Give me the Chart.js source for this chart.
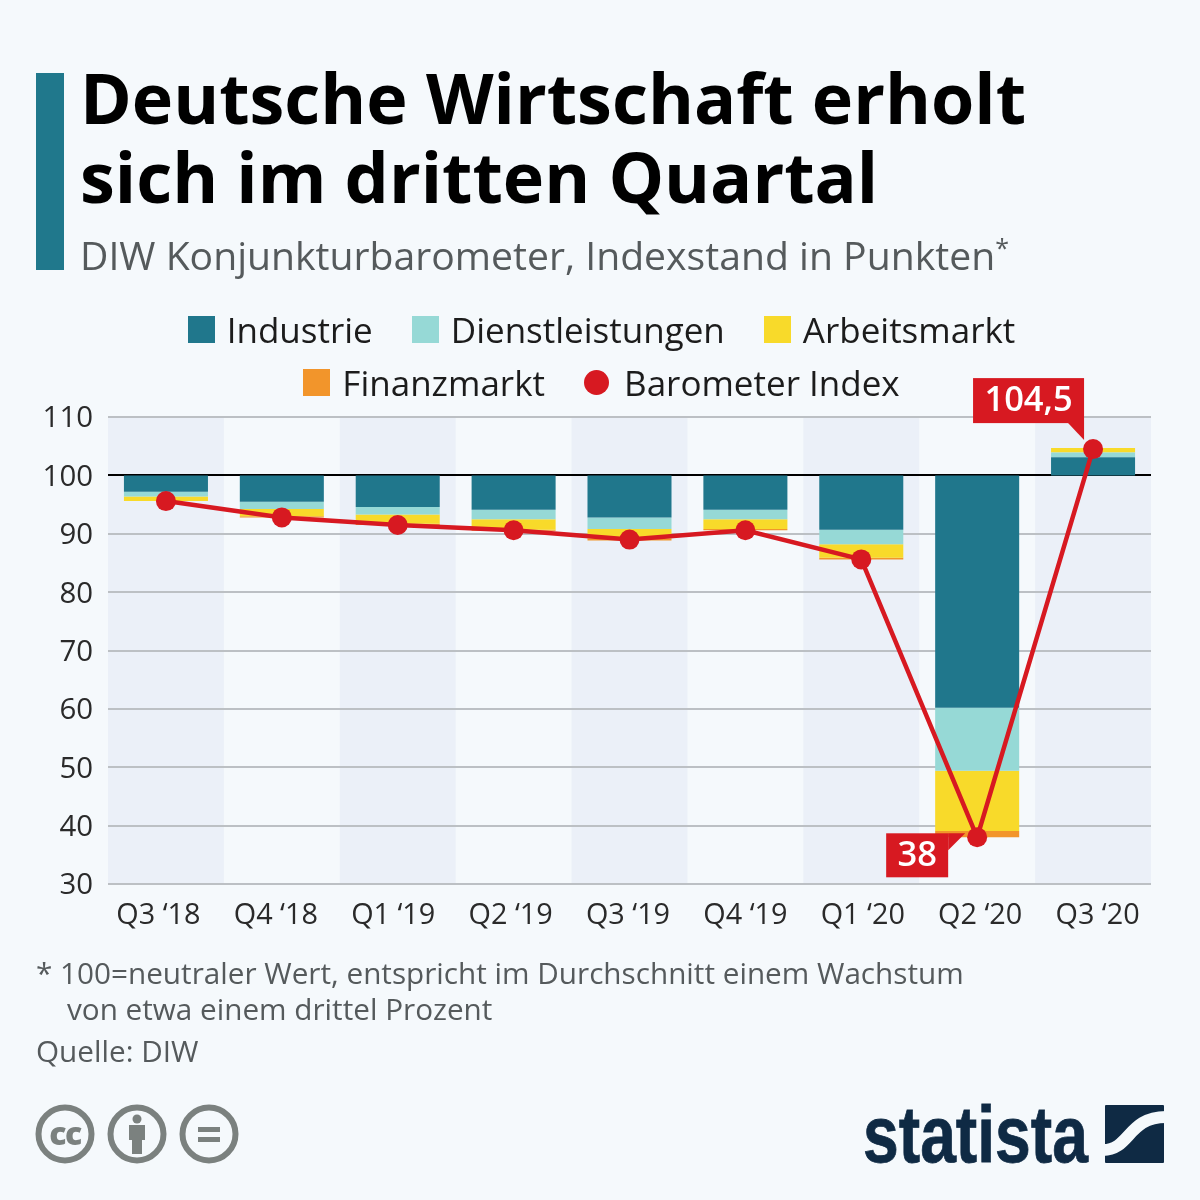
<!DOCTYPE html>
<html lang="de">
<head>
<meta charset="utf-8">
<title>Deutsche Wirtschaft erholt sich im dritten Quartal</title>
<script src="https://cdn.jsdelivr.net/npm/chart.js@4"></script>
<style>
html, body { margin: 0; padding: 0; background: #f5f9fc; }
body { width: 1200px; height: 1200px; position: relative; overflow: hidden; font-family: "Open Sans", sans-serif; }
canvas { position: absolute; left: 0; top: 0; }
.abs { position: absolute; white-space: nowrap; }
#bar { left: 36px; top: 73px; width: 28px; height: 197px; background: #20788c; }
#title { left: 80px; top: 58px; font-size: 70px; line-height: 79px; font-weight: 700; color: #000; }
#subtitle { left: 80px; top: 233px; font-size: 39.15px; line-height: 44px; color: #555a5c; }
#subtitle sup { font-size: 25px; line-height: 0; vertical-align: 13px; }
.foot { font-size: 29.7px; line-height: 36px; color: #555a5c; }
#legend { left: 100px; top: 303px; width: 1003px; display: flex; flex-wrap: wrap; justify-content: center; white-space: normal; padding: 0 40px; box-sizing: border-box; font-size: 35px; line-height: 53px; color: #1c1c1c; }
.item { display: flex; align-items: center; margin: 0 19.5px; }
.swatch { width: 27px; height: 27px; margin-right: 12px; }
.swatch.round { width: 25px; height: 25px; border-radius: 50%; margin-right: 15px; }
</style>
</head>
<body>
<canvas id="chart" width="1200" height="1200"></canvas>
<div class="abs" id="bar"></div>
<div class="abs" id="title">Deutsche Wirtschaft erholt<br>sich im dritten Quartal</div>
<div class="abs" id="subtitle">DIW Konjunkturbarometer, Indexstand in Punkten<sup>*</sup></div>
<div class="abs" id="legend"></div>
<div class="abs foot" style="left:36px;top:955px">* 100=neutraler Wert, entspricht im Durchschnitt einem Wachstum</div>
<div class="abs foot" style="left:67px;top:991px">von etwa einem drittel Prozent</div>
<div class="abs foot" style="left:36px;top:1033px">Quelle: DIW</div>

<svg class="abs" style="left:30px;top:1100px" width="220" height="70" viewBox="30 1100 220 70">
  <g fill="none" stroke="#7b817f" stroke-width="6">
    <circle cx="65" cy="1134" r="26.5"/><circle cx="137" cy="1134" r="26.5"/><circle cx="209" cy="1134" r="26.5"/>
  </g>
  <text x="65" y="1145" text-anchor="middle" font-family="Open Sans" font-weight="800" font-size="32" letter-spacing="-1.5" fill="#7b817f">cc</text>
  <g fill="#7b817f">
    <circle cx="137" cy="1119" r="4.5"/>
    <path d="M129 1125h16v15h-3v14h-10v-14h-3z"/>
    <rect x="198" y="1127" width="22" height="5"/><rect x="198" y="1137" width="22" height="5"/>
  </g>
</svg>
<svg class="abs" style="left:860px;top:1095px" width="310" height="75" viewBox="860 1095 310 75">
  <text x="863" y="1162" font-family="Liberation Sans Narrow, Liberation Sans" font-weight="700" font-size="80" textLength="225" lengthAdjust="spacingAndGlyphs" fill="#0f2a44" stroke="#0f2a44" stroke-width="0.8">statista</text>
  <rect x="1105" y="1105" width="59" height="58" rx="1" fill="#0f2a44"/>
  <path d="M1103 1150C1130 1150 1128 1117 1166 1117" fill="none" stroke="#f5f9fc" stroke-width="12"/>
</svg>

<script>
const categories = ["Q3 ‘18", "Q4 ‘18", "Q1 ‘19", "Q2 ‘19", "Q3 ‘19", "Q4 ‘19", "Q1 ‘20", "Q2 ‘20", "Q3 ‘20"];
// contributions in points, measured from the neutral value 100
const industrie       = [-2.8, -4.5, -5.4, -5.9, -7.2, -5.9, -9.3, -39.8, 3.1];
const dienstleistungen = [-0.8, -1.25, -1.3, -1.6, -2.0, -1.6, -2.5, -10.8, 0.8];
const arbeitsmarkt    = [-0.8, -1.25, -1.6, -1.8, -1.6, -1.7, -2.3, -10.3, 0.8];
const finanzmarkt     = [0, -0.2, -0.2, -0.2, -0.35, -0.2, -0.3, -1.1, 0];
const barometer       = [95.6, 92.8, 91.5, 90.6, 89, 90.6, 85.6, 38, 104.5];
const yTicks = [30, 40, 50, 60, 70, 80, 90, 100, 110];

const NEUTRAL = 100;
const RED = '#d71921';

// turn the contributions into floating bars hanging from 100
var running = categories.map(() => NEUTRAL);
function band(values) {
    return values.map(function (v, i) {
        const from = running[i];
        running[i] = from + v;
        return [from, running[i]];
    });
}

function barSet(label, values, color) {
    return {
        type: 'bar', label: label, data: band(values), backgroundColor: color,
        borderWidth: 0, grouped: false, barPercentage: 0.725, categoryPercentage: 1, order: 2
    };
}

// alternating column shading behind the grid
const columnBands = {
    id: 'columnBands',
    beforeDraw(chart) {
        const { ctx, chartArea: a, scales: { x } } = chart;
        const w = a.width / categories.length;
        ctx.save();
        ctx.fillStyle = '#ebf0f8';
        categories.forEach(function (c, i) {
            if (i % 2 === 0) ctx.fillRect(x.getPixelForValue(i) - w / 2, a.top, w, a.height);
        });
        ctx.restore();
    }
};

// red value flags on Q2 '20 and Q3 '20
const flags = [
    { index: 7, box: [-91, -4, 62, 44], tail: [[-29, -4], [-12, -4], [-29, 13]] },
    { index: 8, box: [-120, -71, 111, 45], tail: [[-25, -26], [-9, -26], [-9, -9]] }
];
const valueFlags = {
    id: 'valueFlags',
    afterDatasetsDraw(chart) {
        const { ctx } = chart;
        const points = chart.getDatasetMeta(4).data;
        ctx.save();
        flags.forEach(function (f) {
            const p = points[f.index];
            ctx.fillStyle = RED;
            ctx.fillRect(p.x + f.box[0], p.y + f.box[1], f.box[2], f.box[3]);
            ctx.beginPath();
            f.tail.forEach(function (t, n) {
                if (n === 0) ctx.moveTo(p.x + t[0], p.y + t[1]);
                else ctx.lineTo(p.x + t[0], p.y + t[1]);
            });
            ctx.fill();
            ctx.fillStyle = '#fff';
            ctx.font = '600 34.5px "Open Sans"';
            ctx.textAlign = 'center';
            ctx.textBaseline = 'middle';
            ctx.fillText(barometer[f.index].toLocaleString('de-DE'), p.x + f.box[0] + f.box[2] / 2, p.y + f.box[1] + f.box[3] / 2 + 1);
        });
        ctx.restore();
    }
};

const myChart = new Chart(document.getElementById('chart'), {
    data: {
        labels: categories,
        datasets: [
            barSet('Industrie', industrie, '#20778c'),
            barSet('Dienstleistungen', dienstleistungen, '#96d9d6'),
            barSet('Arbeitsmarkt', arbeitsmarkt, '#f8da2a'),
            barSet('Finanzmarkt', finanzmarkt, '#f2952b'),
            {
                type: 'line', label: 'Barometer Index', data: barometer, order: 1,
                borderColor: RED, borderWidth: 4.5, tension: 0,
                pointRadius: 10, pointBackgroundColor: RED, pointBorderWidth: 0
            }
        ]
    },
    options: {
        responsive: false,
        animation: false,
        events: [],
        layout: { padding: { left: 0, right: 49, top: 417, bottom: 256 } },
        plugins: { legend: { display: false }, tooltip: { enabled: false } },
        scales: {
            x: {
                grid: { display: false },
                border: { display: false },
                ticks: { color: '#2a2a2a', font: { family: 'Open Sans', size: 28.8 }, padding: 7, autoSkip: false, maxRotation: 0, minRotation: 0 },
                // the labels sit on a slightly wider pitch than the columns
                afterBuildTicks(scale) {
                    const proto = Object.getPrototypeOf(scale);
                    scale.getPixelForTick = i => proto.getPixelForTick.call(scale, i) + (i - 5) * 1.5;
                },
                afterFit(scale) { scale.height = 60; }
            },
            y: {
                min: yTicks[0],
                max: yTicks[yTicks.length - 1],
                afterBuildTicks(scale) {
                    scale.ticks = yTicks.map(v => ({ value: v }));
                    // labels sit 2px below their grid line
                    const proto = Object.getPrototypeOf(scale);
                    scale.getLabelItems = area => proto.getLabelItems.call(scale, area).map(item => ({ ...item, textOffset: item.textOffset + 2 }));
                },
                grid: {
                    lineWidth: 2, drawTicks: false,
                    color: ctx => ctx.tick && ctx.tick.value === NEUTRAL ? '#000' : '#bcc0c4'
                },
                border: { display: false },
                ticks: { color: '#2a2a2a', font: { family: 'Open Sans', size: 29.4 }, padding: 15 },
                afterFit(scale) { scale.width = 108; }
            }
        }
    },
    plugins: [columnBands, valueFlags]
});

// html legend built from the datasets
const legendBox = document.getElementById('legend');
myChart.data.datasets.forEach(function (ds) {
    const item = document.createElement('div');
    item.className = 'item';
    const swatch = document.createElement('span');
    swatch.className = ds.type === 'line' ? 'swatch round' : 'swatch';
    swatch.style.background = ds.type === 'line' ? ds.borderColor : ds.backgroundColor;
    const text = document.createElement('span');
    text.textContent = ds.label;
    item.appendChild(swatch);
    item.appendChild(text);
    legendBox.appendChild(item);
});
</script>
</body>
</html>
